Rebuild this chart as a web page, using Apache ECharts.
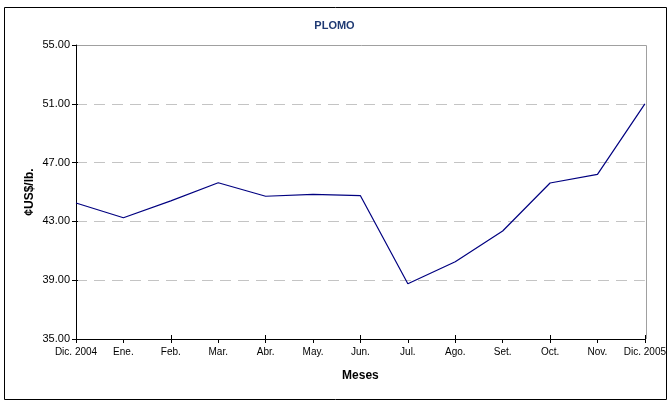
<!DOCTYPE html>
<html>
<head>
<meta charset="utf-8">
<title>PLOMO</title>
<style>
  html, body { margin: 0; padding: 0; background: #fff; }
</style>
</head>
<body>
<script src="https://cdn.jsdelivr.net/npm/echarts@6/dist/echarts.min.js"></script>
<div id="main" style="width:669px;height:402px;"></div>
<script type="text/javascript">
    // meses
    var months = ['Dic. 2004', 'Ene.', 'Feb.', 'Mar.', 'Abr.', 'May.', 'Jun.', 'Jul.', 'Ago.', 'Set.', 'Oct.', 'Nov.', 'Dic. 2005'];
    // precio plomo, ¢US$/lb.
    var prices = [44.25, 43.25, 44.4, 45.63, 44.71, 44.84, 44.75, 38.76, 40.26, 42.35, 45.61, 46.2, 51.0];

    var myChart = echarts.init(document.getElementById('main'));

    var labelFont = { fontFamily: 'Liberation Sans, Arial', fontSize: 10, color: '#000' };

    myChart.setOption({
        animation: false,
        backgroundColor: '#fff',
        title: {
            text: 'PLOMO',
            left: 'center',
            top: 15,
            textStyle: { fontFamily: 'Liberation Sans, Arial', fontSize: 11, fontWeight: 'bold', color: '#1f3a73' }
        },
        graphic: [{
            type: 'rect',
            shape: { x: 4.5, y: 7.5, width: 662, height: 392 },
            style: { fill: 'none', stroke: '#000', lineWidth: 1 },
            silent: true
        }, {
            // borde del area del grafico (arriba y derecha)
            type: 'polyline',
            z: 10,
            shape: { points: [[77, 45.5], [646.5, 45.5], [646.5, 339]] },
            style: { stroke: '#a0a0a0', lineWidth: 1, fill: 'none' },
            silent: true
        }],
        grid: { left: 76, right: 23, top: 45, bottom: 63 },
        xAxis: [{
            type: 'category',
            data: months,
            boundaryGap: false,
            name: 'Meses',
            nameLocation: 'middle',
            nameGap: 31,
            nameTextStyle: { fontFamily: 'Liberation Sans, Arial', fontSize: 12, fontWeight: 'bold', color: '#000' },
            axisLine: { lineStyle: { color: '#000', width: 1 } },
            axisTick: { length: 4, lineStyle: { color: '#000' } },
            axisLabel: Object.assign({ margin: 8, interval: 0 }, labelFont),
            splitLine: { show: false }
        }, {
            type: 'category',
            data: months,
            boundaryGap: false,
            position: 'bottom',
            axisLine: { show: false },
            axisTick: { inside: true, length: 4, lineStyle: { color: '#000' } },
            axisLabel: { show: false },
            splitLine: { show: false }
        }],
        yAxis: [{
            type: 'value',
            min: 35,
            max: 55,
            interval: 4,
            name: '¢US$/lb.',
            nameLocation: 'middle',
            nameGap: 40,
            nameMoveOverlap: false,
            nameTextStyle: { fontFamily: 'Liberation Sans, Arial', fontSize: 12, fontWeight: 'bold', color: '#000' },
            axisLine: { show: true, lineStyle: { color: '#000', width: 1 } },
            axisTick: { show: true, length: 4, lineStyle: { color: '#000' } },
            axisLabel: Object.assign({
                margin: 6,
                formatter: function (v) { return v.toFixed(2); }
            }, labelFont, { fontSize: 11 }),
            splitLine: { show: true, lineStyle: { color: '#c4c4c4', type: [11, 7], width: 1 } }
        }, {
            type: 'value',
            min: 35,
            max: 55,
            interval: 4,
            position: 'left',
            axisLine: { show: false },
            axisTick: { show: true, inside: true, length: 2, lineStyle: { color: '#000' } },
            axisLabel: { show: false },
            splitLine: { show: false }
        }],
        series: [{
            type: 'line',
            data: prices,
            symbol: 'none',
            lineStyle: { color: '#000080', width: 1.2 },
            itemStyle: { color: '#000080' }
        }]
    });
</script>
</body>
</html>
